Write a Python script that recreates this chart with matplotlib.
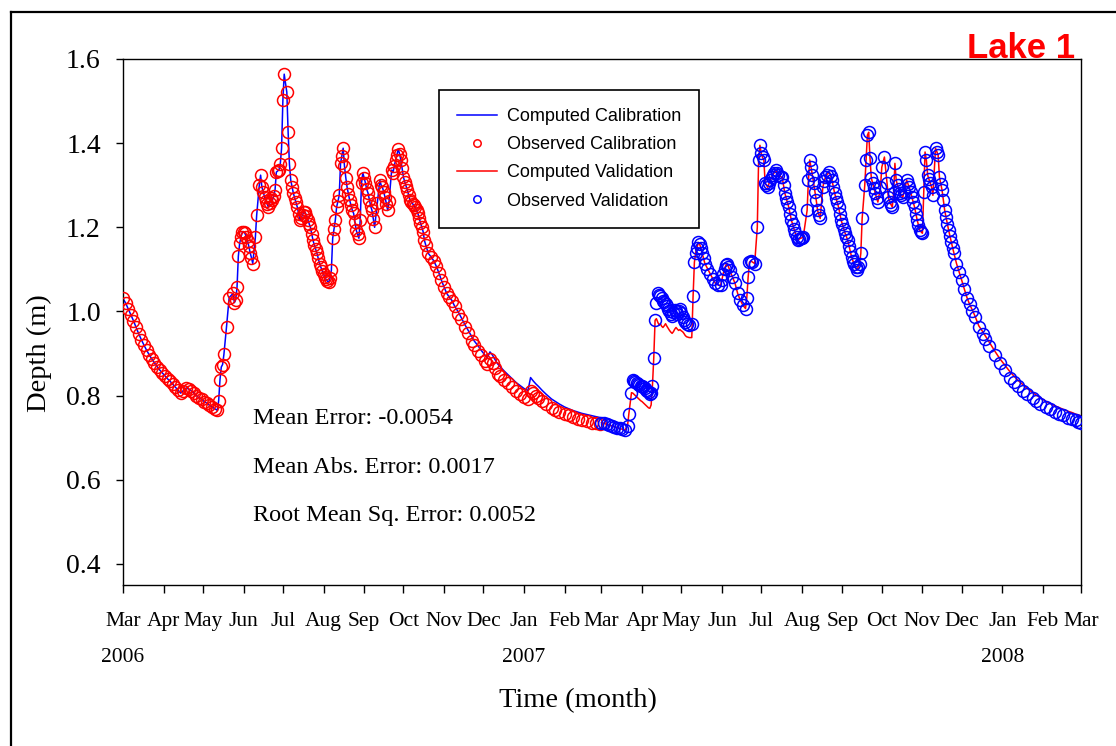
import numpy as np
import matplotlib
matplotlib.use('Agg')
import matplotlib.pyplot as plt
from matplotlib.lines import Line2D
from matplotlib.transforms import ScaledTranslation

START = np.datetime64('2006-03-01')

# ---- calibration period (Mar 2006 - Feb 2007), days since 2006-03-01 ----
cal_days = [
    0, 2, 4, 6, 8, 10, 12, 14, 16, 18, 20, 22, 24, 26, 28, 30, 32, 34, 36, 38, 40, 42, 44,
    46, 48, 50, 52, 54, 56, 58, 60, 62, 64, 66, 68, 70, 72,
    73, 74, 75, 76, 77, 79, 81, 84, 85, 86,
    87, 88, 89, 90, 91, 92, 93, 94, 95, 96,
    97, 98, 99, 101, 102, 104, 105, 106, 107, 108,
    109, 110, 111, 112, 113, 114, 115, 116, 117, 118,
    119, 120, 121, 122, 123, 125, 126, 127, 128,
    129, 130, 131, 132, 133, 134, 135, 136, 137, 138,
    139, 140, 141, 142, 143, 144, 145, 146, 147, 148,
    149, 150, 151, 152, 153, 154, 155, 156, 157, 158,
    159, 160, 161, 162, 163, 164, 165, 166, 167, 168,
    169, 170, 171, 172, 173, 174, 175, 176, 177, 178,
    179, 180, 181, 182, 183, 184, 185, 186, 187, 188,
    189, 190, 191, 192, 194, 196, 197, 198, 199, 200,
    201, 202, 203, 205, 206, 207, 208, 209, 210, 211,
    212, 213, 214, 215, 216, 217, 218, 219, 220, 221,
    222, 223, 224, 225, 226, 227, 228, 229, 230, 231,
    233, 235, 237, 239, 241, 243, 245, 247, 249, 251,
    253, 256, 258, 261, 263, 266, 268, 271, 273, 276,
    278, 280, 282, 284, 286, 288, 291, 294, 297, 300,
    303, 306, 309, 311, 313, 315, 317, 320, 323, 327,
    330, 333, 337, 340, 343, 347, 350, 354, 358, 361, 364,
]
cal_obs = [
    1.031, 1.020, 1.006, 0.992, 0.978, 0.962, 0.947, 0.933, 0.920, 0.908, 0.897, 0.887,
    0.878, 0.869, 0.861, 0.854, 0.847, 0.840, 0.834, 0.827, 0.820, 0.813, 0.806,
    0.812, 0.818, 0.816, 0.812, 0.806, 0.800, 0.795, 0.791, 0.786, 0.782, 0.777, 0.773, 0.769, 0.765,
    0.788, 0.838, 0.868, 0.874, 0.898, 0.964, 1.033, 1.043, 1.021, 1.028,
    1.057, 1.131, 1.162, 1.176, 1.188, 1.190, 1.186, 1.178, 1.168, 1.155,
    1.140, 1.128, 1.114, 1.176, 1.229, 1.300, 1.324, 1.295, 1.285, 1.272,
    1.262, 1.255, 1.248, 1.258, 1.270, 1.264, 1.275, 1.288, 1.331, 1.334,
    1.336, 1.350, 1.388, 1.502, 1.564, 1.521, 1.426, 1.350, 1.312,
    1.296, 1.281, 1.270, 1.259, 1.248, 1.232, 1.217, 1.222, 1.230, 1.236,
    1.236, 1.228, 1.218, 1.209, 1.200, 1.185, 1.169, 1.158, 1.148, 1.138,
    1.126, 1.114, 1.105, 1.097, 1.089, 1.081, 1.076, 1.072, 1.069, 1.080,
    1.098, 1.174, 1.196, 1.217, 1.248, 1.262, 1.276, 1.352, 1.370, 1.388,
    1.345, 1.318, 1.295, 1.280, 1.264, 1.252, 1.240, 1.233, 1.212, 1.193,
    1.183, 1.174, 1.217, 1.305, 1.329, 1.318, 1.305, 1.290, 1.281, 1.265,
    1.250, 1.240, 1.220, 1.200, 1.257, 1.312, 1.300, 1.295, 1.283, 1.271,
    1.255, 1.240, 1.262, 1.336, 1.330, 1.345, 1.360, 1.372, 1.386, 1.375,
    1.360, 1.340, 1.319, 1.308, 1.298, 1.288, 1.276, 1.264, 1.260, 1.256,
    1.252, 1.248, 1.240, 1.233, 1.222, 1.211, 1.200, 1.190, 1.169, 1.158,
    1.138, 1.130, 1.121, 1.108, 1.092, 1.074, 1.058, 1.043, 1.034, 1.026,
    1.013, 0.995, 0.982, 0.962, 0.950, 0.931, 0.920, 0.907, 0.897, 0.883,
    0.876, 0.886, 0.878, 0.866, 0.852, 0.846, 0.837, 0.829, 0.820, 0.810,
    0.803, 0.797, 0.792, 0.812, 0.806, 0.800, 0.795, 0.787, 0.780, 0.771,
    0.766, 0.762, 0.757, 0.753, 0.749, 0.745, 0.742, 0.739, 0.736, 0.734, 0.733,
]
cal_comp = [
    1.031, 1.020, 1.006, 0.992, 0.978, 0.962, 0.947, 0.933, 0.920, 0.908, 0.897, 0.887,
    0.878, 0.869, 0.861, 0.854, 0.847, 0.840, 0.834, 0.827, 0.820, 0.813, 0.806,
    0.812, 0.818, 0.816, 0.812, 0.806, 0.800, 0.795, 0.791, 0.786, 0.782, 0.777, 0.773, 0.769, 0.765,
    0.788, 0.838, 0.868, 0.874, 0.898, 0.964, 1.033, 1.043, 1.021, 1.028,
    1.057, 1.131, 1.162, 1.176, 1.188, 1.190, 1.186, 1.178, 1.168, 1.155,
    1.140, 1.128, 1.114, 1.176, 1.229, 1.300, 1.324, 1.295, 1.285, 1.272,
    1.262, 1.255, 1.248, 1.258, 1.270, 1.264, 1.275, 1.288, 1.331, 1.334,
    1.336, 1.350, 1.388, 1.502, 1.564, 1.521, 1.426, 1.350, 1.312,
    1.296, 1.281, 1.270, 1.259, 1.248, 1.232, 1.217, 1.222, 1.230, 1.236,
    1.236, 1.228, 1.218, 1.209, 1.200, 1.185, 1.169, 1.158, 1.148, 1.138,
    1.126, 1.114, 1.105, 1.097, 1.089, 1.081, 1.076, 1.072, 1.069, 1.080,
    1.098, 1.174, 1.196, 1.217, 1.248, 1.262, 1.276, 1.352, 1.370, 1.388,
    1.345, 1.318, 1.295, 1.280, 1.264, 1.252, 1.240, 1.233, 1.212, 1.193,
    1.183, 1.174, 1.217, 1.305, 1.329, 1.318, 1.305, 1.290, 1.281, 1.265,
    1.250, 1.240, 1.220, 1.200, 1.257, 1.312, 1.300, 1.295, 1.283, 1.271,
    1.255, 1.240, 1.262, 1.336, 1.330, 1.345, 1.360, 1.372, 1.386, 1.375,
    1.360, 1.340, 1.319, 1.308, 1.298, 1.288, 1.276, 1.264, 1.260, 1.256,
    1.252, 1.248, 1.240, 1.233, 1.222, 1.211, 1.200, 1.190, 1.169, 1.158,
    1.138, 1.130, 1.121, 1.108, 1.092, 1.074, 1.058, 1.043, 1.034, 1.026,
    1.013, 0.998, 0.986, 0.968, 0.957, 0.940, 0.930, 0.918, 0.909, 0.897,
    0.890, 0.904, 0.896, 0.885, 0.875, 0.868, 0.858, 0.849, 0.840, 0.831,
    0.824, 0.817, 0.812, 0.843, 0.835, 0.828, 0.822, 0.812, 0.803, 0.792,
    0.786, 0.780, 0.773, 0.769, 0.765, 0.761, 0.758, 0.755, 0.752, 0.750, 0.748,
]

# ---- validation period (Mar 2007 - Feb 2008) ----
val_days = [
    365, 367, 369, 371, 373, 375, 377, 379, 381, 383,
    385, 386, 388, 389, 390, 391, 392, 393, 394, 395,
    396, 397, 398, 399, 400, 401, 402, 403, 404, 405,
    406, 407, 408, 409, 410, 411, 412, 413, 414, 415,
    416, 417, 418, 419, 420, 421, 422, 423, 424, 425,
    426, 427, 428, 429, 430, 432, 434, 435, 436, 437,
    438, 439, 440, 441, 442, 443, 444, 446, 448, 450,
    452, 454, 456, 457, 458, 459, 460, 461, 462, 463,
    465, 467, 469, 471, 473, 475, 476, 477, 478, 479,
    480, 482, 484, 485, 486, 487, 488, 489, 490, 491,
    492, 493, 494, 495, 496, 497, 498, 499, 500, 502,
    503, 504, 505, 506, 507, 508, 509, 510, 511, 512,
    513, 514, 515, 516, 517, 518, 519, 522, 523, 524,
    525, 526, 527, 528, 529, 530, 531, 532, 534, 535,
    536, 537, 539, 540, 541, 542, 543, 544, 545, 546,
    547, 548, 549, 550, 551, 552, 553, 554, 555, 556,
    557, 558, 559, 560, 561, 562, 563, 564, 566, 567,
    568, 569, 570, 571, 572, 573, 574, 575, 576, 578,
    579, 581, 583, 584, 585, 586, 587, 588, 589, 590,
    591, 592, 593, 594, 595, 596, 598, 599, 600, 601,
    602, 603, 604, 605, 606, 607, 608, 609, 610, 611,
    612, 613, 614, 615, 616, 617, 618, 620, 621, 622,
    623, 624, 625, 626, 627, 628, 629, 630, 631, 632,
    633, 634, 636, 638, 640, 642, 644, 646, 648, 650,
    653, 656, 658, 661, 665, 669, 673, 677, 680, 683,
    687, 690, 694, 697, 700, 704, 707, 711, 714, 717,
    721, 724, 727, 729, 731,
]
val_obs = [
    0.736, 0.734, 0.732, 0.730, 0.728, 0.726, 0.724, 0.722, 0.720, 0.718,
    0.729, 0.757, 0.807, 0.836, 0.834, 0.832, 0.830, 0.828, 0.826, 0.824,
    0.822, 0.820, 0.817, 0.814, 0.811, 0.808, 0.805, 0.806, 0.824, 0.890,
    0.979, 1.019, 1.043, 1.040, 1.036, 1.031, 1.026, 1.022, 1.018, 1.012,
    1.006, 1.000, 0.995, 0.990, 0.998, 1.004, 1.000, 0.995, 1.002, 1.007,
    0.996, 0.986, 0.980, 0.975, 0.971, 0.968, 0.971, 1.036, 1.117, 1.140,
    1.152, 1.164, 1.160, 1.150, 1.138, 1.126, 1.114, 1.102, 1.090, 1.078,
    1.067, 1.063, 1.062, 1.075, 1.090, 1.102, 1.110, 1.114, 1.106, 1.098,
    1.082, 1.067, 1.043, 1.027, 1.015, 1.007, 1.033, 1.081, 1.117, 1.120,
    1.118, 1.114, 1.200, 1.360, 1.395, 1.376, 1.366, 1.360, 1.305, 1.300,
    1.295, 1.305, 1.312, 1.319, 1.325, 1.330, 1.336, 1.330, 1.324, 1.320,
    1.319, 1.300, 1.281, 1.270, 1.259, 1.248, 1.232, 1.217, 1.207, 1.196,
    1.186, 1.178, 1.169, 1.172, 1.174, 1.175, 1.176, 1.240, 1.312, 1.360,
    1.343, 1.325, 1.305, 1.285, 1.264, 1.240, 1.230, 1.221, 1.295, 1.310,
    1.319, 1.325, 1.331, 1.322, 1.312, 1.297, 1.281, 1.270, 1.259, 1.248,
    1.232, 1.217, 1.207, 1.196, 1.186, 1.178, 1.169, 1.156, 1.143, 1.129,
    1.120, 1.112, 1.105, 1.098, 1.106, 1.114, 1.138, 1.221, 1.300, 1.360,
    1.419, 1.426, 1.364, 1.317, 1.305, 1.293, 1.281, 1.270, 1.260, 1.295,
    1.343, 1.367, 1.305, 1.271, 1.260, 1.254, 1.248, 1.281, 1.352, 1.312,
    1.300, 1.290, 1.281, 1.276, 1.271, 1.285, 1.312, 1.303, 1.295, 1.283,
    1.271, 1.259, 1.248, 1.232, 1.217, 1.205, 1.193, 1.189, 1.186, 1.283,
    1.379, 1.360, 1.324, 1.314, 1.305, 1.295, 1.276, 1.388, 1.380, 1.371,
    1.319, 1.303, 1.288, 1.264, 1.240, 1.224, 1.208, 1.193, 1.179, 1.165,
    1.152, 1.139, 1.114, 1.094, 1.074, 1.053, 1.033, 1.017, 1.002, 0.986,
    0.962, 0.946, 0.935, 0.918, 0.897, 0.877, 0.860, 0.843, 0.832, 0.822,
    0.811, 0.803, 0.794, 0.787, 0.781, 0.773, 0.768, 0.762, 0.757, 0.753,
    0.748, 0.745, 0.741, 0.738, 0.736,
]
val_comp = [
    0.736, 0.734, 0.732, 0.730, 0.728, 0.726, 0.724, 0.722, 0.720, 0.718,
    0.729, 0.757, 0.807, 0.806, 0.803, 0.800, 0.797, 0.794, 0.791, 0.788,
    0.786, 0.783, 0.780, 0.777, 0.774, 0.771, 0.770, 0.778, 0.824, 0.890,
    0.979, 0.983, 0.975, 0.968, 0.971, 0.965, 0.962, 0.966, 0.971, 0.965,
    0.960, 0.955, 0.951, 0.948, 0.952, 0.958, 0.962, 0.958, 0.955, 0.957,
    0.954, 0.952, 0.948, 0.943, 0.940, 0.938, 0.938, 1.036, 1.117, 1.140,
    1.152, 1.164, 1.160, 1.150, 1.138, 1.126, 1.114, 1.102, 1.090, 1.078,
    1.067, 1.063, 1.062, 1.075, 1.090, 1.102, 1.110, 1.114, 1.106, 1.098,
    1.082, 1.067, 1.043, 1.027, 1.015, 1.007, 1.033, 1.081, 1.117, 1.120,
    1.118, 1.114, 1.200, 1.360, 1.395, 1.376, 1.366, 1.360, 1.305, 1.300,
    1.295, 1.305, 1.312, 1.319, 1.325, 1.330, 1.336, 1.330, 1.324, 1.320,
    1.319, 1.300, 1.281, 1.270, 1.259, 1.248, 1.232, 1.217, 1.207, 1.196,
    1.186, 1.178, 1.169, 1.172, 1.174, 1.175, 1.176, 1.240, 1.312, 1.360,
    1.343, 1.325, 1.305, 1.285, 1.264, 1.240, 1.230, 1.221, 1.295, 1.310,
    1.319, 1.325, 1.331, 1.322, 1.312, 1.297, 1.281, 1.270, 1.259, 1.248,
    1.232, 1.217, 1.207, 1.196, 1.186, 1.178, 1.169, 1.156, 1.143, 1.129,
    1.120, 1.112, 1.105, 1.098, 1.106, 1.114, 1.138, 1.221, 1.300, 1.360,
    1.419, 1.426, 1.364, 1.317, 1.305, 1.293, 1.281, 1.270, 1.260, 1.295,
    1.343, 1.367, 1.305, 1.271, 1.260, 1.254, 1.248, 1.281, 1.352, 1.312,
    1.300, 1.290, 1.281, 1.276, 1.271, 1.285, 1.312, 1.303, 1.295, 1.283,
    1.271, 1.259, 1.248, 1.232, 1.217, 1.205, 1.193, 1.189, 1.186, 1.283,
    1.379, 1.360, 1.324, 1.314, 1.305, 1.295, 1.276, 1.388, 1.380, 1.371,
    1.319, 1.303, 1.288, 1.264, 1.240, 1.224, 1.208, 1.193, 1.179, 1.165,
    1.152, 1.139, 1.114, 1.094, 1.074, 1.053, 1.033, 1.017, 1.004, 0.990,
    0.966, 0.952, 0.942, 0.927, 0.907, 0.888, 0.872, 0.856, 0.846, 0.836,
    0.825, 0.817, 0.808, 0.801, 0.795, 0.787, 0.782, 0.776, 0.772, 0.768,
    0.763, 0.760, 0.756, 0.754, 0.752,
]

month_labels = ['Mar\n2006', 'Apr', 'May', 'Jun', 'Jul', 'Aug', 'Sep', 'Oct', 'Nov',
                'Dec', 'Jan\n2007', 'Feb', 'Mar', 'Apr', 'May', 'Jun', 'Jul', 'Aug',
                'Sep', 'Oct', 'Nov', 'Dec', 'Jan\n2008', 'Feb', 'Mar']
month_ticks = np.arange('2006-03', '2008-04', dtype='datetime64[M]').astype('datetime64[D]')
y_ticks = [0.4, 0.6, 0.8, 1.0, 1.2, 1.4, 1.6]
stats = ['Mean Error: -0.0054', 'Mean Abs. Error: 0.0017', 'Root Mean Sq. Error: 0.0052']

cal_dates = START + np.array(cal_days, dtype='timedelta64[D]')
val_dates = START + np.array(val_days, dtype='timedelta64[D]')

SERIF = 'Liberation Serif'
SANS = 'Liberation Sans'

W, H = 1116, 746
fig = plt.figure(figsize=(W / 100, H / 100), dpi=100)
fig.patch.set_facecolor('white')
ax = fig.add_axes([123 / W, 1 - 585 / H, 958 / W, 526 / H])

ax.plot(cal_dates, cal_comp, color='#0000FF', lw=1.1, label='Computed Calibration', zorder=2)
ax.plot(cal_dates, cal_obs, ls='none', marker='o', ms=8.6, mfc='none', mec='#FF0000',
        mew=1.1, label='Observed Calibration', zorder=3)
ax.plot(val_dates, val_comp, color='#FF0000', lw=1.1, label='Computed Validation', zorder=2)
ax.plot(val_dates, val_obs, ls='none', marker='o', ms=8.6, mfc='none', mec='#0000FF',
        mew=1.1, label='Observed Validation', zorder=3)

ax.set_xlim(np.datetime64('2006-03-01'), np.datetime64('2008-03-01'))
ax.set_ylim(0.35, 1.6)

ax.set_xticks(month_ticks)
ax.set_xticklabels(month_labels, fontsize=15.5, family=SERIF, linespacing=2.2)
shift = ScaledTranslation(-4 / 100, 0, fig.dpi_scale_trans)
for lab in ax.get_xticklabels():
    lab.set_transform(lab.get_transform() + shift)
ax.set_yticks(y_ticks)
ax.set_yticklabels([f'{v:.1f}' for v in y_ticks], fontsize=20, family=SERIF)
ax.minorticks_off()
ax.tick_params(axis='x', direction='out', length=5.5, width=1.0, pad=14, colors='black')
ax.tick_params(axis='y', direction='out', length=5.0, width=1.0, pad=11, colors='black')
for sp in ax.spines.values():
    sp.set_linewidth(1.0)
    sp.set_color('black')

ax.set_ylabel('Depth (m)', fontsize=20.5, family=SERIF, va='center')
ax.yaxis.set_label_coords(-0.087, 0.441)
ax.set_xlabel('Time (month)', fontsize=20.5, family=SERIF, va='center')
ax.xaxis.set_label_coords(0.475, -0.219)

for i, s in enumerate(stats):
    ax.text(0.1357, 0.3156 - i * 0.0913, s, transform=ax.transAxes, va='center',
            ha='left', fontsize=17.5, family=SERIF)

leg = ax.legend(loc='upper left', bbox_to_anchor=(0.330, 0.941), borderaxespad=0,
                frameon=True, fancybox=False, framealpha=1, edgecolor='black',
                prop={'family': SANS, 'size': 13}, handlelength=2.2,
                handletextpad=0.55, borderpad=1.0, labelspacing=0.62, markerscale=0.62)
leg.get_frame().set_linewidth(1.2)

fig.text(1075 / W, 1 - 58 / H, 'Lake 1', ha='right', va='baseline', color='#FF0000',
         fontsize=25, fontweight='bold', family=SANS)

# outer frame of the screenshot
fig.add_artist(Line2D([11 / W, 11 / W], [0, 1 - 12 / H], transform=fig.transFigure,
                      color='black', lw=1.6))
fig.add_artist(Line2D([11 / W, 1], [1 - 12 / H, 1 - 12 / H], transform=fig.transFigure,
                      color='black', lw=1.6))

fig.savefig('out.png', dpi=100, facecolor='white')
